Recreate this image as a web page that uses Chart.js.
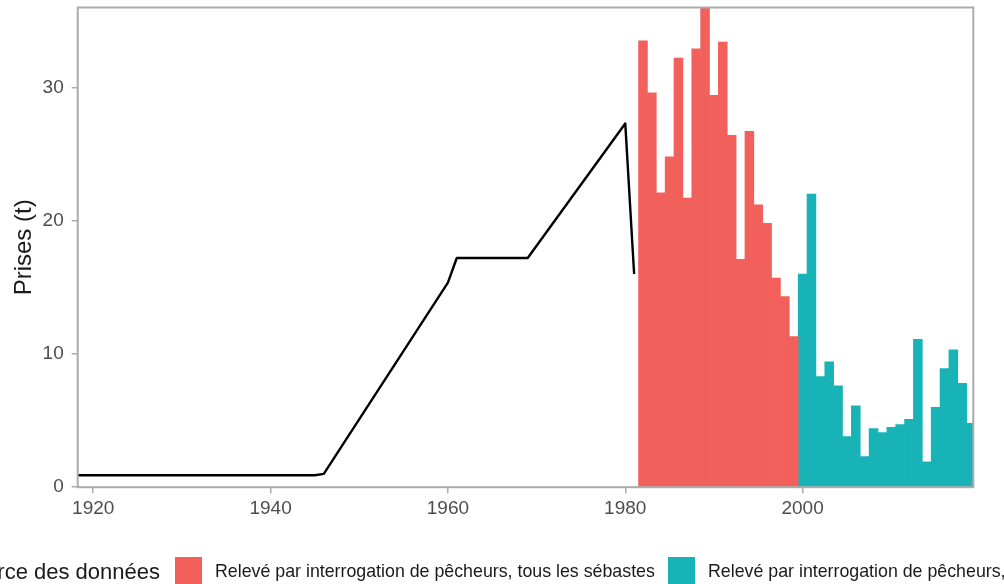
<!DOCTYPE html>
<html>
<head>
<meta charset="utf-8">
<script src="https://cdn.jsdelivr.net/npm/chart.js@4/dist/chart.umd.min.js"></script>
<style>
  html, body { margin: 0; padding: 0; background: #fff; overflow: hidden; }
  #wrap { position: relative; width: 1004px; height: 584px; overflow: hidden; font-family: "Liberation Sans", Arial, sans-serif; }
  #chart { position: absolute; left: 0; top: 0; }
  .lg { position: absolute; white-space: nowrap; }
  .lgTitle { font-size: 22px; line-height: 22px; color: #1a1a1a; right: 844px; top: 561px; }
  .key { width: 27px; height: 27px; top: 557px; }
  .lgText { font-size: 17.8px; line-height: 17.8px; color: #1a1a1a; top: 563px; }
</style>
</head>
<body>
<div id="wrap">
  <canvas id="chart" width="1004" height="584"></canvas>
  <div class="lg lgTitle">Source des données</div>
  <div class="lg key" style="left:175px;background:#F2605C"></div>
  <div class="lg lgText" style="left:215px">Relevé par interrogation de pêcheurs, tous les sébastes</div>
  <div class="lg key" style="left:668px;background:#18B3B7"></div>
  <div class="lg lgText" style="left:708px">Relevé par interrogation de pêcheurs, sébaste aux yeux jaunes</div>
</div>
<script>
/* DATA */
const lineYears = [1918, 1945, 1946, 1960, 1961, 1969, 1980, 1981];
const lineValues = [0.9, 0.9, 1.0, 15.35, 17.2, 17.2, 27.3, 16.0];

const redYears = [1982, 1983, 1984, 1985, 1986, 1987, 1988, 1989, 1990, 1991,
  1992, 1993, 1994, 1995, 1996, 1997, 1998, 1999];
const redValues = [33.5, 29.6, 22.1, 24.8, 32.2, 21.7, 32.9, 36.5, 29.4, 33.4,
  26.4, 17.1, 26.7, 21.2, 19.8, 15.7, 14.3, 11.3];

const tealYears = [2000, 2001, 2002, 2003, 2004, 2005, 2006, 2007, 2008, 2009,
  2010, 2011, 2012, 2013, 2014, 2015, 2016, 2017, 2018, 2019];
const tealValues = [16.0, 22.0, 8.3, 9.4, 7.6, 3.8, 6.1, 2.3, 4.4, 4.1,
  4.5, 4.7, 5.1, 11.1, 1.9, 6.0, 8.9, 10.3, 7.8, 4.8];

const xTicks = [1920, 1940, 1960, 1980, 2000];
const yTicks = [0, 10, 20, 30];

const RED = "#F2605C", TEAL = "#18B3B7", AXIS = "#ababab";
const toXY = (xs, ys) => xs.map((x, i) => ({ x, y: ys[i] }));

/* panel border on all 4 sides */
const panelBorder = {
  id: "panelBorder",
  afterDraw(c) {
    const a = c.chartArea, ctx = c.ctx;
    ctx.save();
    ctx.strokeStyle = AXIS;
    ctx.lineWidth = 2;
    ctx.strokeRect(a.left, a.top, a.right - a.left, a.bottom - a.top);
    ctx.restore();
  }
};

new Chart(document.getElementById("chart"), {
  type: "bar",
  data: {
    datasets: [
      {
        type: "line",
        data: toXY(lineYears, lineValues),
        borderColor: "#000",
        borderWidth: 2.4,
        pointRadius: 0,
        tension: 0,
        borderJoinStyle: "round"
      },
      {
        data: toXY(redYears, redValues),
        backgroundColor: RED,
        borderWidth: 0,
        barPercentage: 1,
        categoryPercentage: 1,
        grouped: false
      },
      {
        data: toXY(tealYears, tealValues),
        backgroundColor: TEAL,
        borderWidth: 0,
        barPercentage: 1,
        categoryPercentage: 1,
        grouped: false
      }
    ]
  },
  options: {
    responsive: false,
    animation: false,
    devicePixelRatio: 1,
    layout: { padding: { left: 0, right: 30.7, top: 7.5, bottom: 0 } },
    plugins: { legend: { display: false }, tooltip: { enabled: false } },
    scales: {
      x: {
        type: "linear",
        offset: false,
        min: 1918.25,
        max: 2019.25,
        afterBuildTicks: s => { s.ticks = xTicks.map(v => ({ value: v })); },
        afterFit: s => { s.height = 96.8; s.paddingLeft = 0; s.paddingRight = 0; },
        ticks: {
          callback: v => String(v),
          font: { family: "Liberation Sans", size: 19 },
          color: "#4d4d4d",
          padding: 4,
          maxRotation: 0
        },
        grid: { offset: false, drawOnChartArea: false, tickLength: 6, color: AXIS, lineWidth: 1.5 },
        border: { display: false }
      },
      y: {
        min: 0,
        max: 36,
        afterBuildTicks: s => { s.ticks = yTicks.map(v => ({ value: v })); },
        afterFit: s => { s.width = 77.7; s.paddingTop = 0; s.paddingBottom = 0; },
        ticks: {
          font: { family: "Liberation Sans", size: 19 },
          color: "#4d4d4d",
          padding: 8
        },
        grid: { drawOnChartArea: false, tickLength: 6, color: AXIS, lineWidth: 1.5 },
        border: { display: false },
        title: {
          display: true,
          text: "Prises (t)",
          font: { family: "Liberation Sans", size: 24 },
          color: "#1a1a1a",
          padding: { top: 10, bottom: 0 }
        }
      }
    }
  },
  plugins: [panelBorder]
});
</script>
</body>
</html>
